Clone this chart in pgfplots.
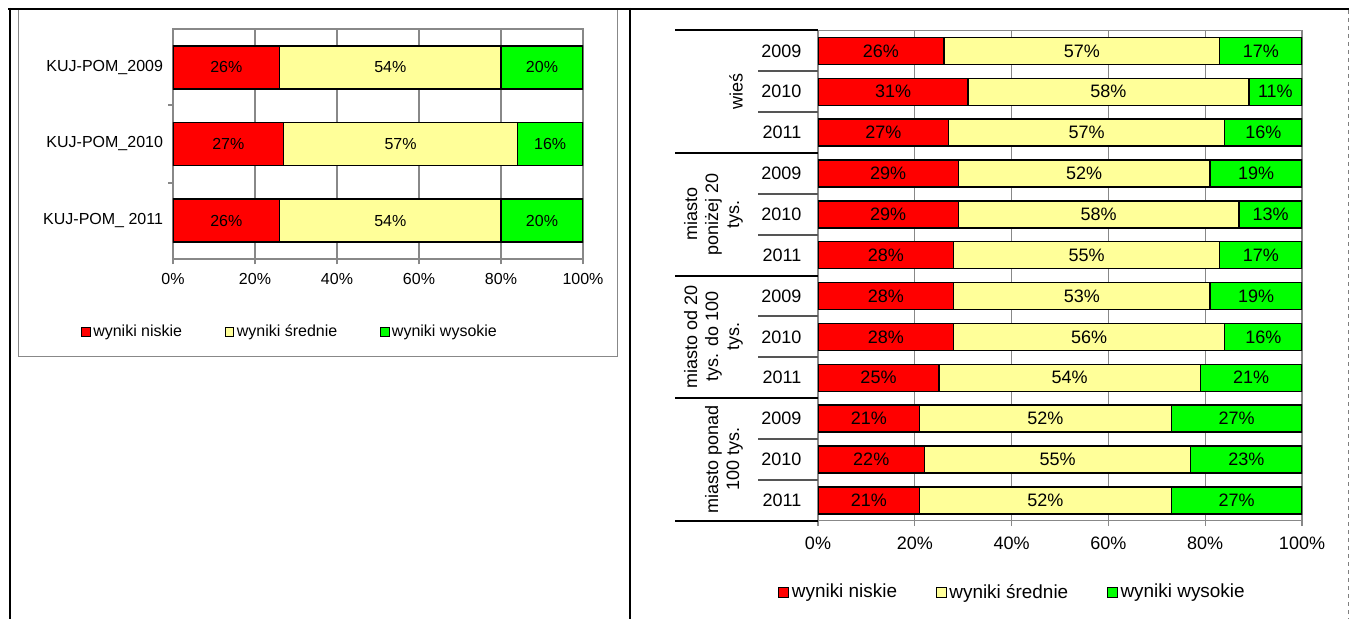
\documentclass[border=0pt]{standalone}
\usepackage{pgfplots}
\pgfplotsset{compat=1.18}
\usepackage{pgfplotstable}
\usepackage{fontspec}
\setmainfont{Liberation Sans}
\definecolor{cLow}{HTML}{FF0000}
\definecolor{cMid}{HTML}{FFFF99}
\definecolor{cHigh}{HTML}{00FF00}
\definecolor{gridgray}{HTML}{888888}
\definecolor{sepgray}{HTML}{555555}

\pgfplotstableread{
row low mid high
1 26 54 20
2 27 57 16
3 26 54 20
}\dataLeft

\pgfplotstableread{
row low mid high
1 26 57 17
2 31 58 11
3 27 57 16
4 29 52 19
5 29 58 13
6 28 55 17
7 28 53 19
8 28 56 16
9 25 54 21
10 21 52 27
11 22 55 23
12 21 52 27
}\dataRight

\pgfplotsset{
  commonstyle/.style={
    scale only axis, xbar stacked, enlargelimits=false,
    xmin=0, xmax=100, y dir=reverse,
    axis line style={gridgray, line width=1pt},
    xtick={0,20,40,60,80,100},
    xticklabels={0\%,20\%,40\%,60\%,80\%,100\%},
    xmajorgrids, major grid style={gridgray, line width=1pt},
    tick align=outside, major tick length=4pt,
    tick style={gridgray, line width=1pt},
    xtick pos=bottom, ytick pos=left,
    ytick style={draw=none},
    legend cell align=left,
  },
  seg/.style n args={2}{fill=#1, draw=black, line width=1.1pt,
    point meta=explicit symbolic,
    nodes near coords={\pgfplotspointmeta\%},
    every node near coord/.append style={anchor=center, font=#2, text=black}},
}

\begin{document}
\begin{tikzpicture}[x=0.75pt,y=0.75pt]
\path[use as bounding box] (0,0) rectangle (1353,619);
% document table lines
\draw[line width=1.9pt] (8,610) -- (1349,610);
\draw[line width=1.9pt] (10,611) -- (10,0);
\draw[line width=1.9pt] (630,611) -- (630,0);
\draw[gray, dashed, line width=0.6pt] (1348,609) -- (1348,0);
% left chart frame
\draw[gridgray, line width=0.75pt] (18,609) -- (18,263) -- (617,263) -- (617,609);

% ---------------- left chart
\begin{axis}[commonstyle,
  at={(129.75pt,270pt)}, anchor=south west,
  width=307.5pt, height=172.5pt,
  bar width=32.25pt,
  ymin=0.5, ymax=3.5,
  ytick={1,2,3},
  yticklabels={KUJ-POM\_2009,KUJ-POM\_2010,KUJ-POM\_ 2011},
  xticklabel style={yshift=-3pt},
  tick label style={font=\fontsize{12}{14}\selectfont},
  legend style={at={(-0.2244,-0.3174)}, anchor=west, draw=none, fill=none, inner sep=0pt,
    font=\fontsize{12}{14}\selectfont, legend columns=3,
    /tikz/every even column/.append style={column sep=30pt}},
  legend image code/.code={\draw[#1, draw=black, line width=0.6pt] (0pt,-3.2pt) rectangle (6.4pt,3.2pt);},
]
\addplot[seg={cLow}{\fontsize{12}{14}\selectfont}]
  table[x=low, y=row, meta=low] {\dataLeft};
\addplot[seg={cMid}{\fontsize{12}{14}\selectfont}]
  table[x=mid, y=row, meta=mid] {\dataLeft};
\addplot[seg={cHigh}{\fontsize{12}{14}\selectfont}]
  table[x=high, y=row, meta=high] {\dataLeft};
\legend{wyniki niskie, wyniki średnie, wyniki wysokie}
\end{axis}
% small category ticks on left chart
\draw[gridgray, line width=1pt] (168,514) -- (173,514);
\draw[gridgray, line width=1pt] (168,436) -- (173,436);

% ---------------- right chart
\begin{axis}[commonstyle,
  at={(613.5pt,73.725pt)}, anchor=south west,
  width=363pt, height=367.65pt,
  bar width=20.25pt,
  ymin=0.5, ymax=12.5,
  ytick={1,...,12},
  yticklabels={2009,2010,2011,2009,2010,2011,2009,2010,2011,2009,2010,2011},
  yticklabel style={xshift=-5pt},
  xticklabel style={yshift=-5pt},
  tick label style={font=\fontsize{13.5}{15}\selectfont},
  legend style={at={(-0.0826,-0.1455)}, anchor=west, draw=none, fill=none, inner sep=0pt,
    font=\fontsize{14.2}{16}\selectfont, legend columns=3,
    /tikz/every even column/.append style={column sep=27pt}},
  legend image code/.code={\draw[#1, draw=black, line width=0.6pt] (0pt,-3.8pt) rectangle (7.6pt,3.8pt);},
]
\addplot[seg={cLow}{\fontsize{13.5}{15}\selectfont}]
  table[x=low, y=row, meta=low] {\dataRight};
\addplot[seg={cMid}{\fontsize{13.5}{15}\selectfont}]
  table[x=mid, y=row, meta=mid] {\dataRight};
\addplot[seg={cHigh}{\fontsize{13.5}{15}\selectfont}]
  table[x=high, y=row, meta=high] {\dataRight};
\legend{wyniki niskie, wyniki średnie, wyniki wysokie}
\end{axis}

% category separators (multi-level axis)
\foreach \yy in {588.5,465.95,343.4,220.85,98.3}
  \draw[black, line width=1.5pt] (675,\yy) -- (818,\yy);
\foreach \yy in {547.65,506.8,425.1,384.25,302.55,261.7,180.0,139.15}
  \draw[sepgray, line width=1.5pt] (758,\yy) -- (818,\yy);

% group labels
\begin{scope}[every node/.style={rotate=90, anchor=south, align=center, inner sep=0pt,
    font=\fontsize{13.5}{15.75}\selectfont}]
\node at (743,527.2) {wieś};
\node at (743,404.7) {miasto\\poniżej 20\\tys.};
\node at (743,282.2) {miasto od 20\\tys. do 100\\tys.};
\node at (743,159.6) {miasto ponad\\100 tys.};
\end{scope}
\end{tikzpicture}
\end{document}
